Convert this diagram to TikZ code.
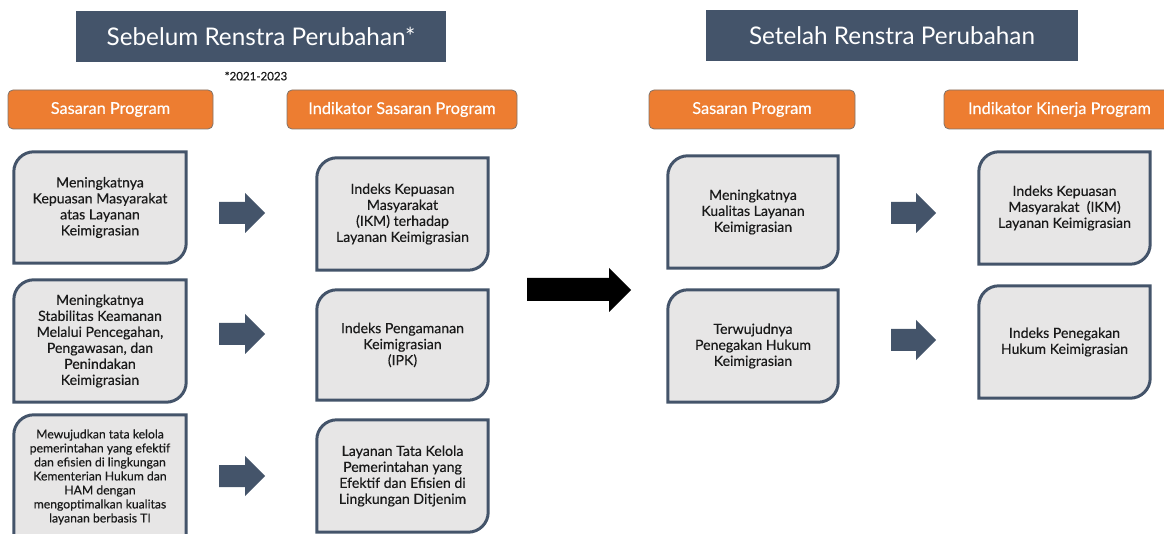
\documentclass[tikz,border=0pt]{standalone}
\usepackage{fontspec}
\setmainfont{Lato}
\newfontfamily\bodyfont{Lato}[FakeBold=0.35]
\usetikzlibrary{calc,backgrounds}
\definecolor{slate}{HTML}{44546A}
\definecolor{boxgray}{HTML}{E7E6E6}
\definecolor{orng}{HTML}{ED7D31}
\definecolor{orngline}{HTML}{80746C}
\definecolor{txt}{HTML}{1A1A1A}
\tikzset{
  titlebox/.style={fill=slate, text=white, font=\fontsize{24.3}{28}\selectfont, inner sep=0, minimum height=51},
  headbox/.style={fill=orng, draw=orngline, line width=0.8pt, rounded corners=5pt, text=white,
    font=\bodyfont\fontsize{16.3}{19}\selectfont, minimum height=39, inner sep=0},
  gbox/.style={align=center, text=txt, font=\bodyfont\fontsize{14.1}{16}\selectfont, inner sep=0},
  gframestyle/.style={fill=boxgray, draw=slate, line width=3pt},
  blk/.style={fill=slate},
  notestyle/.style={text=txt, font=\bodyfont\fontsize{11.5}{13}\selectfont, inner sep=0},
}
\newcommand\myframe[2][0]{%
  \begin{scope}[on background layer]
  \path[gframestyle] ($(#2.south west)+(0,#1)$) -- ($(#2.north west)+(0,20)$)
    .. controls ($(#2.north west)+(0,9)$) and ($(#2.north west)+(9,0)$) .. ($(#2.north west)+(20,0)$)
    -- (#2.north east) -- ($(#2.south east)+(0,-20+#1)$)
    .. controls ($(#2.south east)+(0,-9+#1)$) and ($(#2.south east)+(-9,#1)$) .. ($(#2.south east)+(-20,#1)$)
    -- cycle;
  \end{scope}}
\newcommand\myblockarrow[3]{%
  \fill[blk] (#1,#2-11) -- (#3-20,#2-11) -- (#3-20,#2-20) -- (#3,#2) -- (#3-20,#2+20)
    -- (#3-20,#2+11) -- (#1,#2+11) -- cycle;}
\begin{document}
\begin{tikzpicture}[x=1pt,y=-1pt]
\useasboundingbox (0,0) rectangle (1164,534);
% titles
\node[titlebox, minimum width=370] (t1) at (261,36.5) {Sebelum Renstra Perubahan*};
\node[titlebox, minimum width=372] (t2) at (892,35.5) {Setelah Renstra Perubahan};
\node[notestyle] (note) at (256,76) {*2021-2023};
% orange headers
\node[headbox, minimum width=205] (o1) at (110.5,109.5) {Sasaran Program};
\node[headbox, minimum width=230] (o2) at (402,109.5) {Indikator Sasaran Program};
\node[headbox, minimum width=206] (o3) at (752,109.5) {Sasaran Program};
\node[headbox, minimum width=231] (o4) at (1059.5,109.5) {Indikator Kinerja Program};
% left column
\node[gbox, minimum width=172, minimum height=111] (a1) at (100,207.5)
  {Meningkatnya\\Kepuasan Masyarakat\\atas Layanan\\Keimigrasian};
\node[gbox, minimum width=172, minimum height=122] (a2) at (100,341)
  {Meningkatnya\\Stabilitas Keamanan\\Melalui Pencegahan,\\Pengawasan, dan\\Penindakan\\Keimigrasian};
\node[gbox, minimum width=172, minimum height=124, font=\bodyfont\fontsize{12.2}{14}\selectfont] (a3) at (100,477)
  {Mewujudkan tata kelola\\pemerintahan yang efektif\\dan efisien di lingkungan\\Kementerian Hukum dan\\HAM dengan\\mengoptimalkan kualitas\\layanan berbasis TI};
\myframe{a1}\myframe{a2}\myframe[30]{a3}
% indikator column
\node[gbox, minimum width=171, minimum height=112] (b1) at (402.5,214)
  {Indeks Kepuasan\\Masyarakat\\(IKM) terhadap\\Layanan Keimigrasian};
\node[gbox, minimum width=171, minimum height=110] (b2) at (402.5,345)
  {Indeks Pengamanan\\Keimigrasian\\(IPK)};
\node[gbox, minimum width=171, minimum height=112] (b3) at (402.5,476)
  {Layanan Tata Kelola\\Pemerintahan yang\\Efektif dan Efisien di\\Lingkungan Ditjenim};
\myframe{b1}\myframe{b2}\myframe{b3}
% right side
\node[gbox, minimum width=170, minimum height=112] (c1) at (753,212)
  {Meningkatnya\\Kualitas Layanan\\Keimigrasian};
\node[gbox, minimum width=170, minimum height=112] (c2) at (753,346)
  {Terwujudnya\\Penegakan Hukum\\Keimigrasian};
\node[gbox, minimum width=171, minimum height=112] (d1) at (1064.5,208)
  {Indeks Kepuasan\\Masyarakat~~(IKM)\\Layanan Keimigrasian};
\node[gbox, minimum width=171, minimum height=112] (d2) at (1064.5,342)
  {Indeks Penegakan\\Hukum Keimigrasian};
\myframe{c1}\myframe{c2}\myframe{d1}\myframe{d2}
% arrows
\myblockarrow{219}{213}{265}
\myblockarrow{219}{334}{265}
\myblockarrow{219}{476}{265}
\myblockarrow{891}{213}{936}
\myblockarrow{891}{340}{936}
\fill[black] (527,278) -- (609,278) -- (609,268) -- (631,290) -- (609,312) -- (609,301) -- (527,301) -- cycle;
\end{tikzpicture}
\end{document}
